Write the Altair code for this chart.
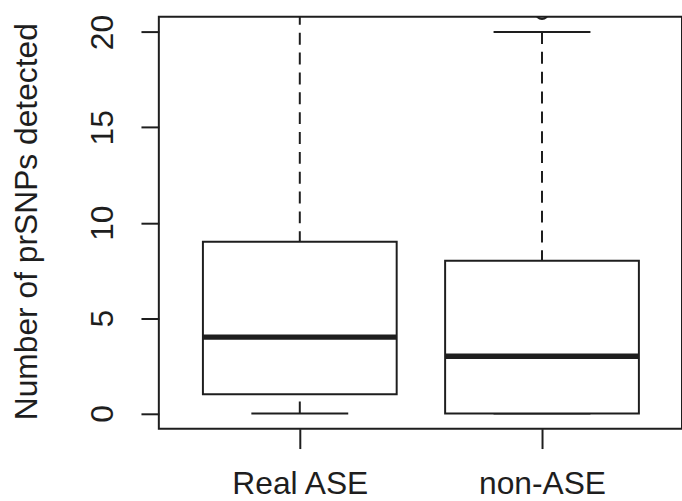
import json
import altair as alt
import pandas as pd

# ---- data ----
groups = ["Real ASE", "non-ASE"]
lower = [0, 0]
q1 = [1, 0]
median = [4, 3]
q3 = [9, 8]
upper = [21, 20]
outlier_group = ["non-ASE"]
outlier_value = [21]
y_ticks = [0, 5, 10, 15, 20]

INK = "#1e1e1e"
FONT = "Liberation Sans"
FS = 32

box_df = pd.DataFrame({
    "group": groups,
    "pos": [i + 1 for i in range(len(groups))],
    "lower": lower, "q1": q1, "median": median, "q3": q3, "upper": upper,
})
out_df = pd.DataFrame({
    "group": outlier_group,
    "pos": [groups.index(g) + 1 for g in outlier_group],
    "value": outlier_value,
})

xscale = alt.Scale(domain=[0.418, 2.578], nice=False, zero=False)
yscale = alt.Scale(domain=[-0.8, 20.8], nice=False, zero=False)

label_expr = json.dumps(groups) + "[datum.value - 1]"

xaxis = alt.Axis(values=[1, 2], labelExpr=label_expr, title=None, grid=False,
                 domain=False, ticks=True, tickSize=20, tickWidth=2, tickColor=INK,
                 labelFont=FONT, labelFontSize=FS, labelColor=INK,
                 labelBaseline="alphabetic", labelAlign="center", labelPadding=45)
yaxis = alt.Axis(values=y_ticks, title="Number of prSNPs detected", grid=False,
                 domain=False, ticks=True, tickSize=18, tickWidth=2, tickColor=INK,
                 labelFont=FONT, labelFontSize=FS, labelColor=INK,
                 labelAngle=270, labelAlign="center", labelBaseline="alphabetic",
                 labelPadding=29,
                 titleFont=FONT, titleFontSize=FS, titleColor=INK, titleFontWeight="normal",
                 titleAngle=270, titleAlign="center", titleBaseline="alphabetic",
                 titleX=-123, titleY=206)

base = alt.Chart(box_df).transform_calculate(
    left="datum.pos - 0.4", right="datum.pos + 0.4",
    capl="datum.pos - 0.2", capr="datum.pos + 0.2",
)

whisk_up = base.mark_rule(color=INK, strokeWidth=2, strokeDash=[12, 8], clip=True).encode(
    x=alt.X("pos:Q", scale=xscale, axis=xaxis),
    y=alt.Y("upper:Q", scale=yscale, axis=yaxis),
    y2="q3:Q",
)
whisk_lo = base.mark_rule(color=INK, strokeWidth=2, strokeDash=[12, 8], clip=True).encode(
    x=alt.X("pos:Q", scale=xscale),
    y=alt.Y("lower:Q", scale=yscale),
    y2="q1:Q",
)
cap_up = base.mark_rule(color=INK, strokeWidth=2, clip=True).encode(
    x=alt.X("capl:Q", scale=xscale), x2="capr:Q",
    y=alt.Y("upper:Q", scale=yscale),
)
cap_lo = base.mark_rule(color=INK, strokeWidth=2, clip=True).encode(
    x=alt.X("capl:Q", scale=xscale), x2="capr:Q",
    y=alt.Y("lower:Q", scale=yscale),
)
boxes = base.mark_rect(fill="white", stroke=INK, strokeWidth=2, clip=True).encode(
    x=alt.X("left:Q", scale=xscale), x2="right:Q",
    y=alt.Y("q1:Q", scale=yscale), y2="q3:Q",
)
med = base.mark_rule(color=INK, strokeWidth=5.5, clip=True).encode(
    x=alt.X("left:Q", scale=xscale), x2="right:Q",
    y=alt.Y("median:Q", scale=yscale),
)
outs = alt.Chart(out_df).mark_point(shape="circle", filled=False, size=150,
                                    color=INK, strokeWidth=2, opacity=1, clip=True).encode(
    x=alt.X("pos:Q", scale=xscale),
    y=alt.Y("value:Q", scale=yscale),
)

chart = alt.layer(whisk_up, whisk_lo, cap_up, cap_lo, boxes, med, outs).properties(
    width=527, height=415,
    autosize=alt.AutoSizeParams(type="none"),
    padding={"left": 160, "top": 15, "right": 0, "bottom": 71},
    background="white",
).configure_view(stroke=INK, strokeWidth=2)

chart.save("out.html", embed_options={"renderer": "svg", "actions": False})
